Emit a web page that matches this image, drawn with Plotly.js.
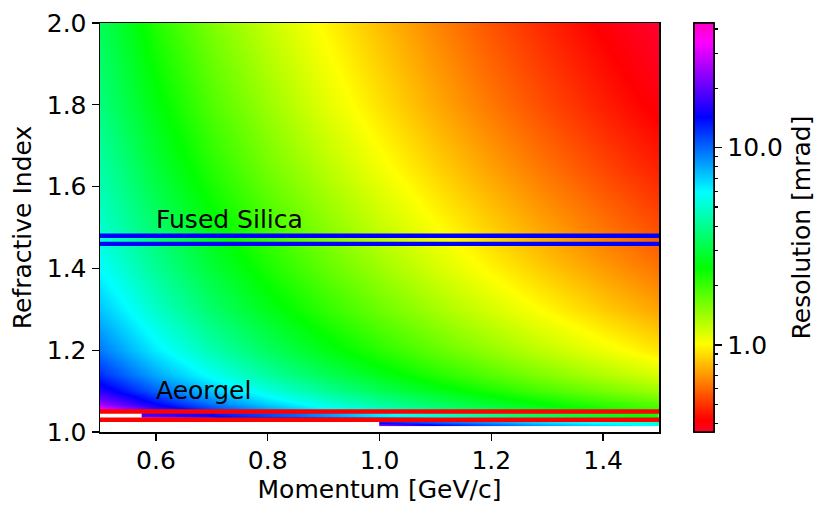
<!DOCTYPE html>
<html><head><meta charset="utf-8">
<script src="https://cdn.plot.ly/plotly-3.0.1.min.js"></script>
<style>html,body{margin:0;padding:0;background:#fff}#c{width:815px;height:505px}</style>
</head><body><div id="c"></div>
<script>
// log10(resolution in mrad)
const momentum = [0.5,0.6,0.7,0.8,0.9,1.0,1.1,1.2,1.3,1.4,1.5];
const index = [1.05,1.051,1.07,1.10,1.14,1.2,1.3,1.4,1.5,1.65,1.8,2.0];
const logRes_105 = [1.59,1.278,1.084,0.937,0.814,0.710,0.617,0.534,0.460,0.391,0.328];
const logRes_1051 = [1.58,1.272,1.079,0.932,0.809,0.705,0.613,0.530,0.456,0.387,0.324];
const logRes_107 = [1.371,1.141,0.972,0.836,0.720,0.620,0.530,0.450,0.377,0.309,0.247];
const logRes_110 = [1.213,1.013,0.857,0.728,0.617,0.519,0.431,0.352,0.280,0.214,0.152];
const logRes_114 = [1.090,0.905,0.756,0.630,0.521,0.425,0.339,0.261,0.189,0.124,0.062];
const logRes_120 = [0.974,0.797,0.652,0.529,0.422,0.327,0.242,0.164,0.093,0.028,-0.033];
const logRes_130 = [0.860,0.688,0.546,0.425,0.320,0.225,0.141,0.064,-0.006,-0.072,-0.133];
const logRes_140 = [0.770,0.611,0.471,0.350,0.246,0.152,0.068,-0.009,-0.080,-0.145,-0.205];
const logRes_150 = [0.700,0.548,0.408,0.291,0.187,0.093,0.010,-0.067,-0.138,-0.203,-0.263];
const logRes_165 = [0.638,0.470,0.330,0.212,0.112,0.020,-0.063,-0.139,-0.210,-0.275,-0.335];
const logRes_180 = [0.576,0.408,0.268,0.155,0.050,-0.040,-0.123,-0.200,-0.270,-0.335,-0.395];
const logRes_200 = [0.520,0.338,0.200,0.090,-0.006,-0.095,-0.178,-0.255,-0.325,-0.390,-0.450];

// strip between the two aerogel lines
const stripA_p = [0.575,0.576,0.70,0.705,0.85,1.0,1.25,1.5];
const stripA_n = [1.0345,1.0375,1.0385,1.044];
const stripA_1 = [1.60,1.60,1.32,1.15,1.08,0.90,0.62,0.40];
const stripA_2 = [1.55,1.55,1.28,1.15,1.08,0.90,0.62,0.40];
const stripA_3 = [1.25,1.25,1.17,1.15,1.00,0.80,0.55,0.36];
const stripA_4 = [1.25,1.25,1.17,1.12,1.00,0.80,0.55,0.36];

// strip under the lower aerogel line
const stripB_p = [1.0,1.001,1.1,1.2,1.3,1.4,1.5];
const stripB_n = [1.0155,1.019,1.0225];
const stripB_1 = [1.42,1.42,1.18,1.03,0.92,0.84,0.78];
const stripB_2 = [1.30,1.30,1.12,1.00,0.88,0.80,0.74];
const stripB_3 = [1.15,1.15,1.05,0.95,0.84,0.76,0.70];

const silicaLines = [1.46,1.48];
const aerogelLines = [1.03,1.05];
const lineX = [0.5,1.5];
const labelText = ['Fused Silica','Aeorgel'];
const labelX = [0.6,0.6];
const labelY = [1.5,1.08];

const colorMin = -0.441, colorMax = 1.632;
const gistRainbow = [[0,'rgb(255,0,41)'],[0.03,'rgb(255,0,0)'],[0.215,'rgb(255,255,0)'],[0.4,'rgb(0,255,0)'],
 [0.586,'rgb(0,255,255)'],[0.77,'rgb(0,0,255)'],[0.954,'rgb(255,0,255)'],[1,'rgb(255,0,191)']];

const majorTicks = [1,10];
const majorLabels = ['1.0','10.0'];
const minorTicks = [0.4,0.5,0.6,0.7,0.8,0.9,2,3,4,5,6,7,8,9,20,30,40];

const FONT = 'DejaVu Sans';
const FS = 25;
const field = [logRes_105,logRes_1051,logRes_107,logRes_110,logRes_114,logRes_120,logRes_130,logRes_140,logRes_150,logRes_165,logRes_180,logRes_200];
const base = {type:'heatmap',zsmooth:'best',colorscale:gistRainbow,zmin:colorMin,zmax:colorMax,hoverinfo:'skip'};
const cbBase = {x:(694-100)/559,xanchor:'left',xref:'paper',y:0.5,yanchor:'middle',yref:'paper',len:1,lenmode:'fraction',
 thickness:20,thicknessmode:'pixels',xpad:0,ypad:0,outlinecolor:'#000',outlinewidth:1.6,tickcolor:'#000',tickwidth:1.2,
 tickfont:{family:FONT,size:FS,color:'#000'},tickmode:'array'};

const traces = [
 Object.assign({},base,{x:momentum,y:index,z:field,showscale:true,
   colorbar:Object.assign({},cbBase,{ticks:'outside',ticklen:4,tickvals:minorTicks.map(Math.log10),ticktext:minorTicks.map(()=>' ')})}),
 Object.assign({},base,{x:momentum,y:index,z:field,showscale:true,
   colorbar:Object.assign({},cbBase,{ticks:'outside',ticklen:8,tickvals:majorTicks.map(Math.log10),ticktext:majorLabels})}),
 Object.assign({},base,{x:stripA_p,y:stripA_n,z:[stripA_1,stripA_2,stripA_3,stripA_4],showscale:false}),
 Object.assign({},base,{x:stripB_p,y:stripB_n,z:[stripB_1,stripB_2,stripB_3],showscale:false})
];
silicaLines.forEach(n=>traces.push({type:'scatter',mode:'lines',x:lineX,y:[n,n],line:{color:'#0000ff',width:4.4},showlegend:false,hoverinfo:'skip'}));
aerogelLines.forEach(n=>traces.push({type:'scatter',mode:'lines',x:lineX,y:[n,n],line:{color:'#ff0000',width:4.4},showlegend:false,hoverinfo:'skip'}));

const axisCommon = {showline:true,mirror:true,linecolor:'#000',linewidth:1.5,ticks:'outside',ticklen:7,tickwidth:1.2,tickcolor:'#000',
 showgrid:false,zeroline:false,tickfont:{family:FONT,size:FS,color:'#000'},tickformat:'.1f'};
const layout = {
 width:815,height:505,margin:{l:100,r:156,t:23,b:72.6,pad:0},paper_bgcolor:'#fff',plot_bgcolor:'#fff',showlegend:false,
 font:{family:FONT,size:FS,color:'#000'},
 xaxis:Object.assign({},axisCommon,{range:[0.5,1.5],tickmode:'array',tickvals:[0.6,0.8,1.0,1.2,1.4],ticklabelstandoff:-2,
   title:{text:'Momentum [GeV/c]',font:{family:FONT,size:FS,color:'#000'},standoff:7}}),
 yaxis:Object.assign({},axisCommon,{range:[1,2],tickmode:'array',tickvals:[1.0,1.2,1.4,1.6,1.8,2.0],
   title:{text:'Refractive Index',font:{family:FONT,size:FS,color:'#000'},standoff:8}}),
 annotations:labelText.map((t,i)=>({x:labelX[i],y:labelY[i],xref:'x',yref:'y',text:t,showarrow:false,xanchor:'left',yanchor:'bottom',
   borderpad:0,xshift:-0.5,yshift:-7,font:{family:FONT,size:FS,color:'#000'}})).concat([
   {x:(801-100)/559,y:0.5,xref:'paper',yref:'paper',text:'Resolution [mrad]',textangle:-90,showarrow:false,xanchor:'center',yanchor:'middle',
    borderpad:0,font:{family:FONT,size:FS,color:'#000'}}])
};
Plotly.newPlot('c',traces,layout,{displayModeBar:false,staticPlot:true});
</script></body></html>
